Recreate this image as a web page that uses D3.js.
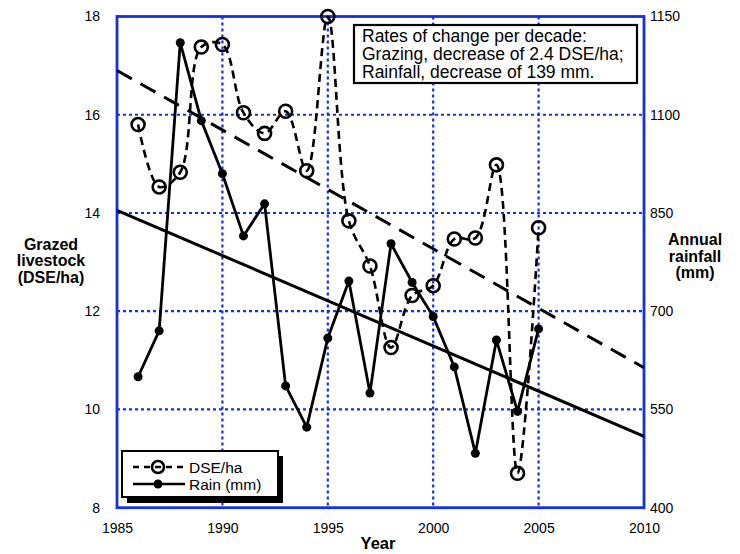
<!DOCTYPE html>
<html>
<head>
<meta charset="utf-8">
<script src="https://cdn.jsdelivr.net/npm/d3@7"></script>
<style>
	body { margin: 0; background: #fff; }
	text { font-family: 'Liberation Sans', Arial, Helvetica, sans-serif; fill: #000; }
</style>
</head>
<body>
<svg id="chart"></svg>
<script>
const WIDTH = 740;
const HEIGHT = 554;
const BLUE = '#1330e4';

const years = [1986, 1987, 1988, 1989, 1990, 1991, 1992, 1993, 1994, 1995,
	1996, 1997, 1998, 1999, 2000, 2001, 2002, 2003, 2004, 2005];
const dse = [15.8, 14.53, 14.83, 17.38, 17.43, 16.04, 15.62, 16.07, 14.86, 18.0,
	13.84, 12.92, 11.26, 12.32, 12.52, 13.47, 13.49, 14.98, 8.7, 13.7];
const rain = [600, 670, 1110, 991, 910, 815, 864, 586, 523, 659,
	746, 575, 803, 744, 692, 615, 483, 656, 547, 673];

const trendYears = [1985, 2010];
const dseTrend = [16.9, 10.85];
const rainTrend = [854, 509];

const xTicks = [1985, 1990, 1995, 2000, 2005, 2010];
const leftTicks = [8, 10, 12, 14, 16, 18];
const rightTicks = [400, 550, 700, 850, 1000, 1150];
const rightTickLabels = ['400', '550', '700', '850', '1100', '1150'];

const noteLines = ['Rates of change per decade:', 'Grazing, decrease of 2.4 DSE/ha;', 'Rainfall, decrease of 139 mm.'];

const plot = {left: 117, right: 644, top: 16.5, bottom: 507.7};

const x = d3.scaleLinear().domain([1985, 2010]).range([plot.left, plot.right]);
const yLeft = d3.scaleLinear().domain([8, 18]).range([plot.bottom, plot.top]);
const yRight = d3.scaleLinear().domain([400, 1150]).range([plot.bottom, plot.top]);

const svg = d3.select('#chart')
	.attr('width', WIDTH)
	.attr('height', HEIGHT);

// grid
const grid = svg.append('g');
grid.selectAll('line.v')
	.data(xTicks.slice(1, -1))
	.enter()
	.append('line')
	.attr('x1', d => x(d)).attr('x2', d => x(d))
	.attr('y1', plot.top).attr('y2', plot.bottom)
	.attr('stroke', BLUE).attr('stroke-width', 2.2)
	.attr('stroke-dasharray', '3,3');
grid.selectAll('line.h')
	.data(leftTicks.slice(1, -1))
	.enter()
	.append('line')
	.attr('x1', plot.left).attr('x2', plot.right)
	.attr('y1', d => yLeft(d)).attr('y2', d => yLeft(d))
	.attr('stroke', BLUE).attr('stroke-width', 2.2)
	.attr('stroke-dasharray', '3,3');

svg.append('rect')
	.attr('x', plot.left).attr('y', plot.top)
	.attr('width', plot.right - plot.left)
	.attr('height', plot.bottom - plot.top)
	.attr('fill', 'none')
	.attr('stroke', BLUE)
	.attr('stroke-width', 2.8);

// axes
const styleAxis = g => {
	g.select('.domain').remove();
	g.selectAll('text').style('font-size', '14px').attr('fill', '#000');
};

svg.append('g')
	.attr('transform', `translate(0,${plot.bottom})`)
	.call(d3.axisBottom(x).tickValues(xTicks).tickFormat(d3.format('d')).tickSize(0).tickPadding(15))
	.call(styleAxis);

svg.append('g')
	.attr('transform', `translate(${plot.left},0)`)
	.call(d3.axisLeft(yLeft).tickValues(leftTicks).tickSize(0).tickPadding(17))
	.call(styleAxis);

svg.append('g')
	.attr('transform', `translate(${plot.right},0)`)
	.call(d3.axisRight(yRight).tickValues(rightTicks).tickFormat((d, i) => rightTickLabels[i]).tickSize(0).tickPadding(6))
	.call(styleAxis);

// axis titles
const boldLines = (lines, cx, y0, size) => {
	svg.append('text')
		.attr('text-anchor', 'middle')
		.style('font-size', size + 'px')
		.style('font-weight', 'bold')
		.selectAll('tspan')
		.data(lines)
		.enter()
		.append('tspan')
		.attr('x', cx)
		.attr('y', (d, i) => y0 + i * 16.5)
		.text(d => d);
};
boldLines(['Grazed', 'livestock', '(DSE/ha)'], 51, 249.5, 16);
boldLines(['Annual', 'rainfall', '(mm)'], 695, 245, 16);
boldLines(['Year'], 378, 549, 16.5);

// trend lines
const trendLine = (vals, yScale) => d3.line()
	.x((d, i) => x(trendYears[i]))
	.y(d => yScale(d))(vals);

svg.append('path')
	.attr('d', trendLine(dseTrend, yLeft))
	.attr('fill', 'none').attr('stroke', '#000')
	.attr('stroke-width', 3)
	.attr('stroke-dasharray', '17,10');

svg.append('path')
	.attr('d', trendLine(rainTrend, yRight))
	.attr('fill', 'none').attr('stroke', '#000')
	.attr('stroke-width', 3);

// DSE series
svg.append('path')
	.datum(dse)
	.attr('d', d3.line()
		.x((d, i) => x(years[i]))
		.y(d => yLeft(d))
		.curve(d3.curveCatmullRom.alpha(0.5)))
	.attr('fill', 'none').attr('stroke', '#000')
	.attr('stroke-width', 2.6)
	.attr('stroke-dasharray', '8,5');

svg.append('g')
	.selectAll('circle')
	.data(dse)
	.enter()
	.append('circle')
	.attr('cx', (d, i) => x(years[i]))
	.attr('cy', d => yLeft(d))
	.attr('r', 6.5)
	.attr('fill', 'none')
	.attr('stroke', '#000')
	.attr('stroke-width', 2.6);

// rain series
svg.append('path')
	.datum(rain)
	.attr('d', d3.line()
		.x((d, i) => x(years[i]))
		.y(d => yRight(d)))
	.attr('fill', 'none').attr('stroke', '#000')
	.attr('stroke-width', 2.8)
	.attr('stroke-linejoin', 'round');

svg.append('g')
	.selectAll('circle')
	.data(rain)
	.enter()
	.append('circle')
	.attr('cx', (d, i) => x(years[i]))
	.attr('cy', d => yRight(d))
	.attr('r', 4.5)
	.attr('fill', '#000');

// note box
svg.append('rect')
	.attr('x', 354).attr('y', 25)
	.attr('width', 283).attr('height', 58)
	.attr('fill', '#fff')
	.attr('stroke', '#000')
	.attr('stroke-width', 2.2);
svg.append('text')
	.style('font-size', '17.5px')
	.selectAll('tspan')
	.data(noteLines)
	.enter()
	.append('tspan')
	.attr('x', 362)
	.attr('y', (d, i) => 41.5 + i * 18.3)
	.text(d => d);

// legend
const legend = svg.append('g');
legend.append('rect')
	.attr('x', 127).attr('y', 456)
	.attr('width', 156).attr('height', 47)
	.attr('fill', '#000');
legend.append('rect')
	.attr('x', 122).attr('y', 451)
	.attr('width', 156).attr('height', 46)
	.attr('fill', '#fff')
	.attr('stroke', '#000')
	.attr('stroke-width', 2);

legend.append('line')
	.attr('x1', 133).attr('x2', 185)
	.attr('y1', 467).attr('y2', 467)
	.attr('stroke', '#000').attr('stroke-width', 2.6)
	.attr('stroke-dasharray', '6,5');
legend.append('circle')
	.attr('cx', 158).attr('cy', 467).attr('r', 6)
	.attr('fill', 'none').attr('stroke', '#000').attr('stroke-width', 2.6);
legend.append('text')
	.attr('x', 189).attr('y', 472.5)
	.style('font-size', '15.5px')
	.text('DSE/ha');

legend.append('line')
	.attr('x1', 133).attr('x2', 185)
	.attr('y1', 484).attr('y2', 484)
	.attr('stroke', '#000').attr('stroke-width', 2.6);
legend.append('circle')
	.attr('cx', 158).attr('cy', 484).attr('r', 4.5)
	.attr('fill', '#000');
legend.append('text')
	.attr('x', 189).attr('y', 489.5)
	.style('font-size', '15.5px')
	.text('Rain (mm)');
</script>
</body>
</html>
